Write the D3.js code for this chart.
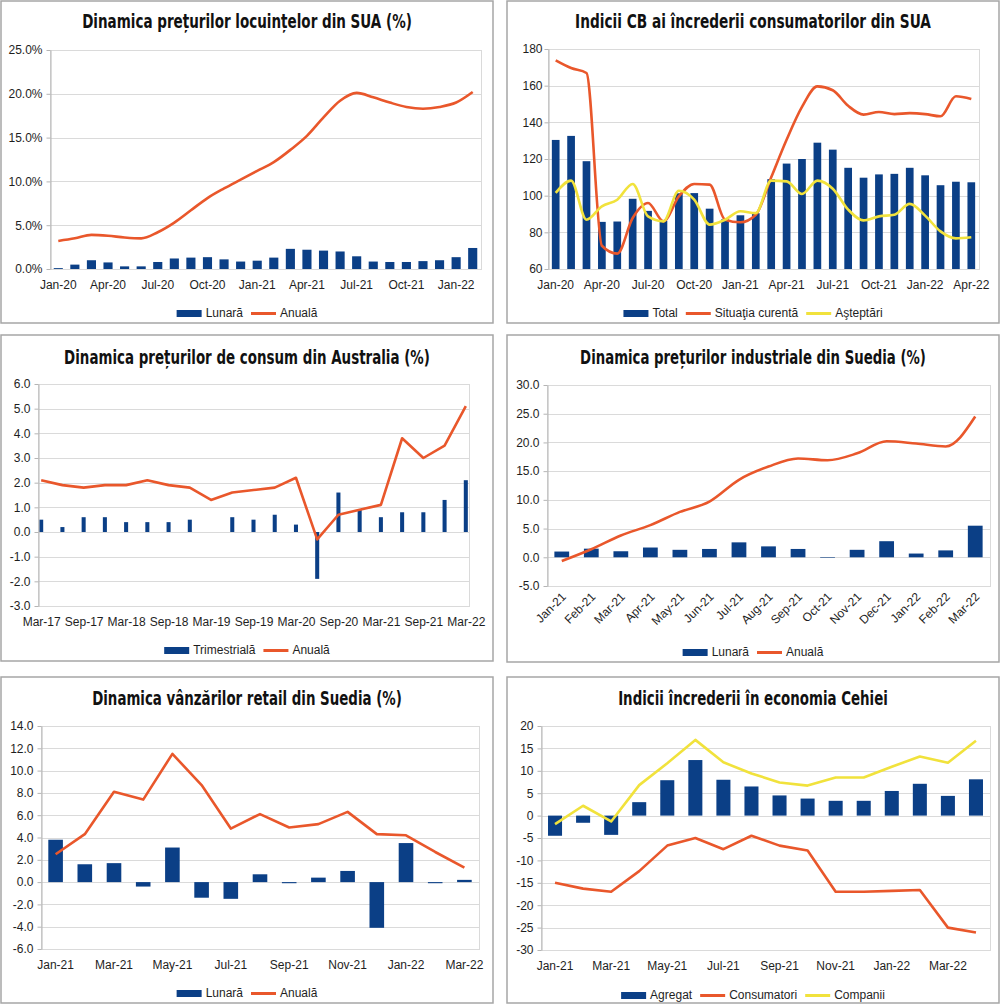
<!DOCTYPE html>
<meta charset="utf-8">
<style>
    body {
        margin: 0;
        padding: 0;
        background: #fff;
    }
    text {
        font-family: "Liberation Sans", Arial, sans-serif;
        fill: #1e1e1e;
    }
    .title {
        font-family: "Liberation Sans Narrow", "DejaVu Sans Condensed", sans-serif;
        font-weight: bold;
        font-size: 19.5px;
        fill: #111;
    }
    .box {
        fill: #fff;
        stroke: #a6a6a6;
        stroke-width: 1.5;
    }
    .grid line {
        stroke: #dadada;
        stroke-width: 1;
    }
    .frame {
        fill: none;
        stroke: #dadada;
    }
    .axis path, .axis line {
        stroke: #b5b5b5;
    }
    .axis text {
        font-size: 12px;
    }
    .legend text {
        font-size: 12px;
    }
</style>
<body>
<script src="https://d3js.org/d3.v7.min.js"></script>
<script>
    var BLUE = "#0b3f86", ORANGE = "#e9572b", YELLOW = "#f1e23c";

    // --- Dinamica preturilor locuintelor din SUA
    var usHouseMonths = ["Jan-20","Feb-20","Mar-20","Apr-20","May-20","Jun-20","Jul-20","Aug-20","Sep-20","Oct-20","Nov-20","Dec-20",
        "Jan-21","Feb-21","Mar-21","Apr-21","May-21","Jun-21","Jul-21","Aug-21","Sep-21","Oct-21","Nov-21","Dec-21","Jan-22","Feb-22"];
    var usHouseMonthly = [0.1, 0.5, 1.0, 0.75, 0.3, 0.3, 0.8, 1.2, 1.3, 1.35, 1.1, 0.85, 0.95, 1.3, 2.3, 2.2, 2.1, 2.0, 1.45, 0.85, 0.8, 0.8, 0.9, 1.0, 1.35, 2.4];
    var usHouseAnnual = [3.2, 3.5, 3.9, 3.8, 3.6, 3.5, 4.2, 5.3, 6.7, 8.1, 9.2, 10.2, 11.2, 12.2, 13.6, 15.2, 17.3, 19.2, 20.1, 19.6, 19.0, 18.5, 18.3, 18.5, 19.0, 20.2];
    var usHouseTicks = [0, 5, 10, 15, 20, 25];

    // --- Indicii CB ai increderii consumatorilor din SUA
    var cbMonths = ["Jan-20","Feb-20","Mar-20","Apr-20","May-20","Jun-20","Jul-20","Aug-20","Sep-20","Oct-20","Nov-20","Dec-20",
        "Jan-21","Feb-21","Mar-21","Apr-21","May-21","Jun-21","Jul-21","Aug-21","Sep-21","Oct-21","Nov-21","Dec-21",
        "Jan-22","Feb-22","Mar-22","Apr-22"];
    var cbTotal = [130.4, 132.6, 118.8, 85.7, 85.9, 98.3, 91.7, 86.3, 101.3, 101.4, 92.9, 87.1, 89.3, 90.4, 109.0, 117.5, 120.0, 128.9, 125.1, 115.2, 109.8, 111.6, 111.9, 115.2, 111.1, 105.7, 107.6, 107.3];
    var cbPresent = [173.8, 169.6, 166.9, 72.7, 68.4, 87.8, 96.0, 86.0, 99.6, 106.4, 106.0, 86.9, 85.5, 89.6, 110.0, 130.5, 148.4, 159.6, 157.5, 149.0, 144.2, 145.6, 144.5, 145.0, 144.5, 143.3, 154.2, 152.7];
    var cbExpect = [101.5, 108.2, 86.9, 94.2, 97.8, 106.4, 88.7, 86.0, 102.7, 97.8, 84.2, 86.9, 91.5, 90.5, 108.2, 107.8, 100.9, 108.2, 103.8, 92.4, 86.5, 88.7, 89.6, 95.5, 89.1, 80.5, 76.7, 77.3];
    var cbTicks = [60, 80, 100, 120, 140, 160, 180];

    // --- Dinamica preturilor de consum din Australia
    var auQuarters = ["Mar-17","Jun-17","Sep-17","Dec-17","Mar-18","Jun-18","Sep-18","Dec-18","Mar-19","Jun-19","Sep-19","Dec-19",
        "Mar-20","Jun-20","Sep-20","Dec-20","Mar-21","Jun-21","Sep-21","Dec-21","Mar-22"];
    var auQuarterly = [0.5, 0.2, 0.6, 0.6, 0.4, 0.4, 0.4, 0.5, 0.0, 0.6, 0.5, 0.7, 0.3, -1.9, 1.6, 0.9, 0.6, 0.8, 0.8, 1.3, 2.1];
    var auAnnual = [2.1, 1.9, 1.8, 1.9, 1.9, 2.1, 1.9, 1.8, 1.3, 1.6, 1.7, 1.8, 2.2, -0.3, 0.7, 0.9, 1.1, 3.8, 3.0, 3.5, 5.1];
    var auTicks = [-3, -2, -1, 0, 1, 2, 3, 4, 5, 6];

    // --- Dinamica preturilor industriale din Suedia
    var sePpiMonths = ["Jan-21","Feb-21","Mar-21","Apr-21","May-21","Jun-21","Jul-21","Aug-21","Sep-21","Oct-21","Nov-21","Dec-21","Jan-22","Feb-22","Mar-22"];
    var sePpiMonthly = [1.0, 1.5, 1.05, 1.7, 1.3, 1.45, 2.6, 1.9, 1.45, -0.1, 1.3, 2.8, 0.65, 1.2, 5.5];
    var sePpiAnnual = [-0.65, 1.4, 3.8, 5.6, 7.9, 9.7, 13.5, 15.8, 17.2, 16.9, 18.1, 20.2, 19.8, 19.3, 24.5];
    var sePpiTicks = [-5, 0, 5, 10, 15, 20, 25, 30];

    // --- Dinamica vanzarilor retail din Suedia
    var seRetailMonths = ["Jan-21","Feb-21","Mar-21","Apr-21","May-21","Jun-21","Jul-21","Aug-21","Sep-21","Oct-21","Nov-21","Dec-21","Jan-22","Feb-22","Mar-22"];
    var seRetailMonthly = [3.8, 1.6, 1.7, -0.4, 3.1, -1.4, -1.5, 0.7, -0.1, 0.4, 1.0, -4.1, 3.5, -0.1, 0.2];
    var seRetailAnnual = [2.5, 4.3, 8.1, 7.4, 11.5, 8.7, 4.8, 6.1, 4.9, 5.2, 6.3, 4.3, 4.2, 2.7, 1.3];
    var seRetailTicks = [-6, -4, -2, 0, 2, 4, 6, 8, 10, 12, 14];

    // --- Indicii increderii in economia Cehiei
    var czMonths = ["Jan-21","Feb-21","Mar-21","Apr-21","May-21","Jun-21","Jul-21","Aug-21","Sep-21","Oct-21","Nov-21","Dec-21","Jan-22","Feb-22","Mar-22","Apr-22"];
    var czAggregate = [-4.5, -1.6, -4.3, 3.0, 7.9, 12.4, 8.0, 6.5, 4.5, 3.8, 3.3, 3.3, 5.5, 7.1, 4.4, 8.1];
    var czConsumers = [-15.0, -16.3, -17.0, -12.4, -6.7, -5.0, -7.5, -4.5, -6.7, -7.8, -17.0, -17.0, -16.8, -16.6, -25.0, -26.1];
    var czCompanies = [-1.9, 2.2, -1.3, 6.8, 11.7, 16.9, 11.9, 9.4, 7.4, 6.7, 8.5, 8.5, 10.9, 13.2, 11.8, 16.7];
    var czTicks = [-30, -25, -20, -15, -10, -5, 0, 5, 10, 15, 20];

    var svg = d3.select("body")
        .append("svg")
        .attr("width", 1000)
        .attr("height", 1005);

    function fmt1(v) { return v.toFixed(1); }
    function fmtPct(v) { return v.toFixed(1) + "%"; }
    function fmtInt(v) { return String(v); }

    function drawPanel(p) {
        var g = svg.append("g");
        var b = p.box, pl = p.plot;

        g.append("rect").attr("class", "box")
            .attr("x", b[0]).attr("y", b[1])
            .attr("width", b[2] - b[0]).attr("height", b[3] - b[1]);

        // title: squeeze horizontally to the width seen in the picture
        var title = g.append("text").attr("class", "title")
            .attr("text-anchor", "middle")
            .text(p.title);
        var natural = title.node().getComputedTextLength();
        title.attr("transform", "translate(" + ((b[0] + b[2]) / 2) + "," + p.titleY + ") scale(" +
            Math.min(1, p.titleLen / natural) + ",1)");

        var y = d3.scaleLinear()
            .domain(d3.extent(p.yTicks))
            .range([pl.b, pl.t]);
        var base = Math.max(y.domain()[0], Math.min(y.domain()[1], 0));

        var x, cx, step;
        if (p.point) {
            x = d3.scalePoint().domain(p.cats).range([pl.l, pl.r]).padding(p.point);
            cx = function(c) { return x(c); };
            step = x.step();
        } else {
            x = d3.scaleBand().domain(p.cats).range([pl.l, pl.r]);
            cx = function(c) { return x(c) + x.bandwidth() / 2; };
            step = x.bandwidth();
        }

        // grid
        g.append("g").attr("class", "grid")
            .selectAll("line")
            .data(p.yTicks)
            .enter().append("line")
            .attr("x1", pl.l).attr("x2", pl.r)
            .attr("y1", function(d) { return Math.round(y(d)) + 0.5; })
            .attr("y2", function(d) { return Math.round(y(d)) + 0.5; });
        g.append("rect").attr("class", "frame")
            .attr("x", pl.l + 0.5).attr("y", Math.round(pl.t) + 0.5)
            .attr("width", pl.r - pl.l).attr("height", Math.round(pl.b) - Math.round(pl.t));

        // bars
        var bw = step * p.barFrac;
        g.append("g")
            .selectAll("rect")
            .data(p.bars.values.map(function(v, i) { return { c: p.cats[i], v: v }; }))
            .enter().append("rect")
            .attr("x", function(d) { return cx(d.c) - bw / 2; })
            .attr("y", function(d) { return y(Math.max(base, d.v)); })
            .attr("width", bw)
            .attr("height", function(d) { return Math.abs(y(d.v) - y(base)); })
            .style("fill", p.bars.color);

        // lines
        p.lines.forEach(function(ln) {
            var line = d3.line()
                .x(function(d, i) { return cx(p.cats[i]); })
                .y(function(d) { return y(d); })
                .curve(ln.curve || d3.curveLinear);
            g.append("path")
                .datum(ln.values)
                .attr("d", line)
                .style("fill", "none")
                .style("stroke", ln.color)
                .style("stroke-width", 2.6)
                .style("stroke-linejoin", "round");
        });

        // y axis
        g.append("g").attr("class", "axis")
            .attr("transform", "translate(" + (pl.l + 0.5) + ",0)")
            .call(d3.axisLeft(y).tickValues(p.yTicks).tickFormat(p.yFmt)
                .tickSize(4).tickSizeOuter(0).tickPadding(p.yPad || 4));

        // x axis
        var labelled = p.cats.filter(function(d, i) { return i % p.every === 0; });
        var xa = g.append("g").attr("class", "axis")
            .attr("transform", "translate(0," + (Math.round(pl.b) + 0.5) + ")")
            .call(d3.axisBottom(x).tickValues(labelled).tickSize(0).tickSizeOuter(0).tickPadding(10.5));
        xa.select(".domain").remove();
        if (p.rotate) {
            xa.selectAll("text")
                .attr("y", 0).attr("dy", 0)
                .attr("transform", "translate(5,11) rotate(-45)")
                .style("text-anchor", "end");
        }

        // legend
        var lg = g.append("g").attr("class", "legend");
        var items = [{ type: "bar", color: p.bars.color, label: p.bars.label }].concat(
            p.lines.map(function(l) { return { type: "line", color: l.color, label: l.label }; }));
        var texts = items.map(function(it) {
            return lg.append("text").attr("y", p.legendY + 4).text(it.label);
        });
        var widths = texts.map(function(t) { return t.node().getComputedTextLength(); });
        var sw = 25, gap1 = 4, gap2 = 8;
        var total = d3.sum(widths) + items.length * (sw + gap1) + (items.length - 1) * gap2;
        var xPos = (b[0] + b[2]) / 2 - total / 2;
        items.forEach(function(it, i) {
            if (it.type === "bar") {
                lg.append("rect").attr("x", xPos).attr("y", p.legendY - 3)
                    .attr("width", sw).attr("height", 7).style("fill", it.color);
            } else {
                lg.append("line").attr("x1", xPos).attr("x2", xPos + sw)
                    .attr("y1", p.legendY + 0.5).attr("y2", p.legendY + 0.5)
                    .style("stroke", it.color).style("stroke-width", 3);
            }
            texts[i].attr("x", xPos + sw + gap1);
            xPos += sw + gap1 + widths[i] + gap2;
        });
    }

    drawPanel({
        box: [1, 1, 493, 323],
        title: "Dinamica prețurilor locuințelor din SUA (%)", titleY: 28, titleLen: 330,
        plot: { l: 50, r: 481, t: 50, b: 269 },
        cats: usHouseMonths, every: 3,
        yTicks: usHouseTicks, yFmt: fmtPct,
        bars: { values: usHouseMonthly, color: BLUE, label: "Lunară" }, barFrac: 0.55,
        lines: [{ values: usHouseAnnual, color: ORANGE, label: "Anuală", curve: d3.curveMonotoneX }],
        legendY: 313
    });

    drawPanel({
        box: [507, 1, 999, 323],
        title: "Indicii CB ai încrederii consumatorilor din SUA", titleY: 28, titleLen: 356,
        plot: { l: 548, r: 979, t: 49, b: 269 },
        cats: cbMonths, every: 3,
        yTicks: cbTicks, yFmt: fmtInt, yPad: 2,
        bars: { values: cbTotal, color: BLUE, label: "Total" }, barFrac: 0.5,
        lines: [
            { values: cbPresent, color: ORANGE, label: "Situaţia curentă", curve: d3.curveMonotoneX },
            { values: cbExpect, color: YELLOW, label: "Aşteptări", curve: d3.curveMonotoneX }
        ],
        legendY: 313
    });

    drawPanel({
        box: [1, 335, 493, 661],
        title: "Dinamica prețurilor de consum din Australia (%)", titleY: 364, titleLen: 366,
        plot: { l: 38, r: 469, t: 384, b: 606 },
        cats: auQuarters, every: 2, point: 0.15,
        yTicks: auTicks, yFmt: fmt1,
        bars: { values: auQuarterly, color: BLUE, label: "Trimestrială" }, barFrac: 0.19,
        lines: [{ values: auAnnual, color: ORANGE, label: "Anuală" }],
        legendY: 650
    });

    drawPanel({
        box: [507, 335, 999, 662],
        title: "Dinamica prețurilor industriale din Suedia (%)", titleY: 364, titleLen: 346,
        plot: { l: 547, r: 990, t: 385, b: 586 },
        cats: sePpiMonths, every: 1, rotate: true,
        yTicks: sePpiTicks, yFmt: fmt1,
        bars: { values: sePpiMonthly, color: BLUE, label: "Lunară" }, barFrac: 0.5,
        lines: [{ values: sePpiAnnual, color: ORANGE, label: "Anuală", curve: d3.curveMonotoneX }],
        legendY: 652
    });

    drawPanel({
        box: [1, 677, 493, 1003],
        title: "Dinamica vânzărilor retail din Suedia (%)", titleY: 705, titleLen: 310,
        plot: { l: 41, r: 479, t: 726, b: 949 },
        cats: seRetailMonths, every: 2,
        yTicks: seRetailTicks, yFmt: fmt1,
        bars: { values: seRetailMonthly, color: BLUE, label: "Lunară" }, barFrac: 0.5,
        lines: [{ values: seRetailAnnual, color: ORANGE, label: "Anuală" }],
        legendY: 993
    });

    drawPanel({
        box: [507, 677, 999, 1003],
        title: "Indicii încrederii în economia Cehiei", titleY: 705, titleLen: 270,
        plot: { l: 541, r: 990, t: 726, b: 950 },
        cats: czMonths, every: 2,
        yTicks: czTicks, yFmt: fmtInt,
        bars: { values: czAggregate, color: BLUE, label: "Agregat" }, barFrac: 0.5,
        lines: [
            { values: czConsumers, color: ORANGE, label: "Consumatori" },
            { values: czCompanies, color: YELLOW, label: "Companii" }
        ],
        legendY: 995
    });
</script>
</body>
</html>
